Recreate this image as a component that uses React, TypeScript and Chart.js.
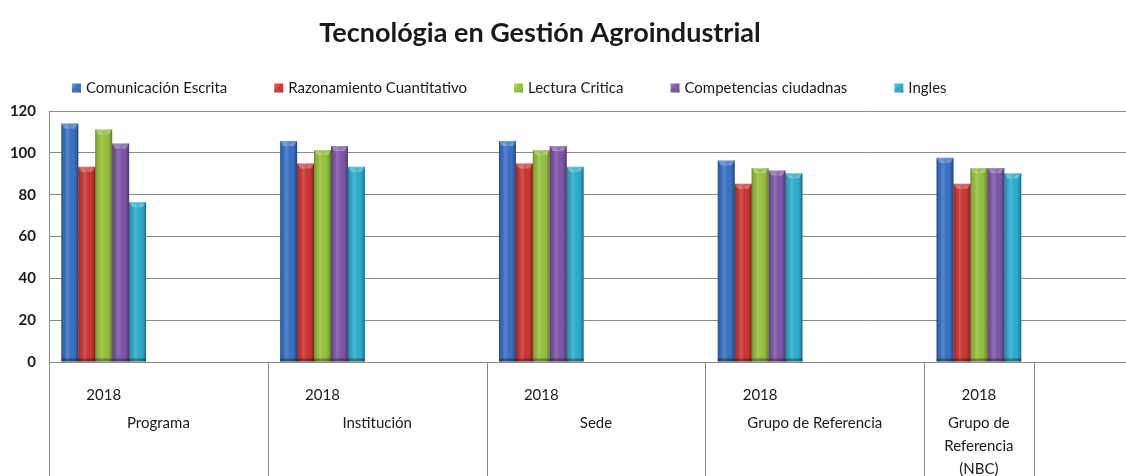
import React, { useEffect, useRef } from "react";
import { Chart, registerables } from "chart.js";

Chart.register(...registerables);

// ---------- data ----------
const chartTitle = "Tecnológia en Gestión Agroindustrial";
const subCategories = ["2018", "", "2018", "", "2018", "", "2018", "", "2018", ""];
const groupLabels: string[][] = [
  ["Programa"],
  ["Institución"],
  ["Sede"],
  ["Grupo de Referencia"],
  ["Grupo de", "Referencia", "(NBC)"],
];
const groupSpans = [2, 2, 2, 2, 1];
const seriesNames = [
  "Comunicación Escrita",
  "Razonamiento Cuantitativo",
  "Lectura Critica",
  "Competencias ciudadnas",
  "Ingles",
];
const comunicacionEscrita = [114, null, 105.7, null, 105.7, null, 96.3, null, 97.6, null];
const razonamientoCuantitativo = [93.3, null, 94.9, null, 94.9, null, 85.2, null, 85.2, null];
const lecturaCritica = [111.2, null, 101.3, null, 101.3, null, 92.7, null, 92.7, null];
const competenciasCiudadnas = [104.5, null, 103.3, null, 103.3, null, 91.6, null, 92.7, null];
const ingles = [76.5, null, 93.3, null, 93.3, null, 90.2, null, 90.2, null];
const yTicks = [0, 20, 40, 60, 80, 100, 120];

// ---------- styles ----------
const seriesColors = ["#356fc2", "#c9332f", "#93c03a", "#7b53a6", "#29abcc"];
const FONT = "Lato, 'Open Sans', sans-serif";
const GRID = "#8a8a8a";
const TEXT = "#1a1a1a";
const CANVAS_W = 1143;
const CANVAS_H = 490;

const decorPlugin = {
  id: "excelDecor",
  afterDatasetsDraw(chart: any) {
    const ctx: CanvasRenderingContext2D = chart.ctx;
    ctx.save();
    chart.data.datasets.forEach((ds: any, di: number) => {
      const meta = chart.getDatasetMeta(di);
      meta.data.forEach((el: any, i: number) => {
        if (ds.data[i] == null) return;
        const { x, y, base, width } = el.getProps(["x", "y", "base", "width"], true);
        const l = x - width / 2;
        const r = x + width / 2;
        const g = ctx.createLinearGradient(l, 0, r, 0);
        g.addColorStop(0, "rgba(0,0,0,0.30)");
        g.addColorStop(0.12, "rgba(0,0,0,0.06)");
        g.addColorStop(0.35, "rgba(255,255,255,0.16)");
        g.addColorStop(0.6, "rgba(255,255,255,0.0)");
        g.addColorStop(0.88, "rgba(0,0,0,0.14)");
        g.addColorStop(1, "rgba(0,0,0,0.38)");
        ctx.fillStyle = g;
        ctx.fillRect(l, y, r - l, base - y);
        // top bevel
        const bh = 5;
        ctx.beginPath();
        ctx.moveTo(l, y);
        ctx.lineTo(r, y);
        ctx.lineTo(r - 3, y + bh);
        ctx.lineTo(l + 3, y + bh);
        ctx.closePath();
        ctx.fillStyle = "rgba(255,255,255,0.28)";
        ctx.fill();
        ctx.beginPath();
        ctx.moveTo(l + 4, y + 1);
        ctx.lineTo(r - 4, y + 1);
        ctx.lineTo(x, y + bh);
        ctx.closePath();
        ctx.fillStyle = "rgba(0,0,0,0.12)";
        ctx.fill();
        // bottom shade
        ctx.fillStyle = "rgba(0,0,0,0.32)";
        ctx.fillRect(l, base - 3, r - l, 3);
      });
    });
    ctx.restore();
  },
  afterDraw(chart: any) {
    const ctx: CanvasRenderingContext2D = chart.ctx;
    const xs = chart.scales.x;
    ctx.save();

    // Title
    ctx.fillStyle = TEXT;
    ctx.font = `bold 27px ${FONT}`;
    ctx.textAlign = "center";
    ctx.textBaseline = "alphabetic";
    ctx.fillText(chartTitle, 540, 42);

    // Legend
    ctx.font = `15px ${FONT}`;
    ctx.textAlign = "left";
    ctx.textBaseline = "middle";
    let lx = 72;
    const ly = 88;
    chart.data.datasets.forEach((ds: any) => {
      const c = ds.backgroundColor as string;
      ctx.fillStyle = c;
      ctx.fillRect(lx, ly - 4.5, 9, 9);
      const g = ctx.createLinearGradient(lx, ly - 4.5, lx + 9, ly + 4.5);
      g.addColorStop(0, "rgba(255,255,255,0.35)");
      g.addColorStop(0.5, "rgba(255,255,255,0)");
      g.addColorStop(1, "rgba(0,0,0,0.3)");
      ctx.fillStyle = g;
      ctx.fillRect(lx, ly - 4.5, 9, 9);
      ctx.fillStyle = TEXT;
      ctx.fillText(ds.label, lx + 14, ly);
      lx += 14 + ctx.measureText(ds.label).width + 47;
    });

    // Group dividers and labels
    ctx.strokeStyle = GRID;
    ctx.lineWidth = 1;
    ctx.font = `15px ${FONT}`;
    ctx.textAlign = "center";
    ctx.textBaseline = "middle";
    let idx = 0;
    const edge = (k: number) => Math.round(xs.getPixelForValue(k - 0.5)) + 0.5;
    const drawDivider = (px: number) => {
      ctx.beginPath();
      ctx.moveTo(px, xs.top);
      ctx.lineTo(px, chart.height);
      ctx.stroke();
    };
    drawDivider(edge(0));
    groupSpans.forEach((span, gi) => {
      const left = xs.getPixelForValue(idx - 0.5);
      const right = xs.getPixelForValue(idx + span - 0.5);
      const cx = (left + right) / 2;
      ctx.fillStyle = TEXT;
      groupLabels[gi].forEach((line, li) => {
        ctx.fillText(line, cx, 423 + li * 23);
      });
      idx += span;
      drawDivider(edge(idx));
    });
    ctx.restore();
  },
};

export default function App() {
  const ref = useRef<HTMLCanvasElement | null>(null);
  useEffect(() => {
    if (!ref.current) return;
    const series = [
      comunicacionEscrita,
      razonamientoCuantitativo,
      lecturaCritica,
      competenciasCiudadnas,
      ingles,
    ];
    const chart = new Chart(ref.current, {
      type: "bar",
      data: {
        labels: subCategories,
        datasets: series.map((d, i) => ({
          label: seriesNames[i],
          data: d,
          backgroundColor: seriesColors[i],
          borderWidth: 0,
          categoryPercentage: 0.774,
          barPercentage: 1,
        })),
      },
      options: {
        responsive: false,
        animation: false,
        layout: { padding: { top: 111, left: 0, right: 0, bottom: 0 } },
        plugins: {
          legend: { display: false },
          title: { display: false },
          tooltip: { enabled: false },
        },
        scales: {
          x: {
            grid: { display: false },
            border: { display: true, color: GRID, width: 1 },
            ticks: {
              color: TEXT,
              font: { family: FONT, size: 15 },
              padding: 16,
              autoSkip: false,
              maxRotation: 0,
            },
            afterFit: (s: any) => {
              s.height = CANVAS_H - 362;
            },
          },
          y: {
            min: yTicks[0],
            max: yTicks[yTicks.length - 1],
            ticks: {
              stepSize: yTicks[1] - yTicks[0],
              color: TEXT,
              font: { family: FONT, size: 15, weight: "bold" },
              padding: 13,
            },
            grid: { color: GRID, lineWidth: 1, drawTicks: false },
            border: { display: true, color: GRID, width: 1 },
            afterFit: (s: any) => {
              s.width = 49;
            },
          },
        },
      },
      plugins: [decorPlugin],
    } as any);
    return () => chart.destroy();
  }, []);

  return (
    <div
      style={{
        position: "absolute",
        left: 0,
        top: 0,
        width: 1126,
        height: 476,
        overflow: "hidden",
        background: "#fff",
      }}
    >
      <canvas
        ref={ref}
        width={CANVAS_W}
        height={CANVAS_H}
        style={{ display: "block", width: CANVAS_W, height: CANVAS_H }}
      />
    </div>
  );
}
